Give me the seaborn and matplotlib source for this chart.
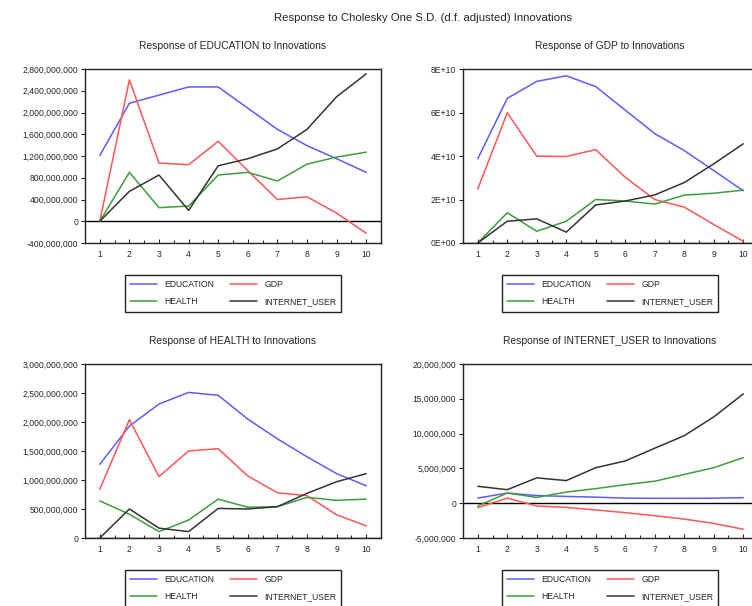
import numpy as np
import pandas as pd
import matplotlib
matplotlib.use('Agg')
import matplotlib.pyplot as plt
import seaborn as sns
from matplotlib.ticker import FuncFormatter, MultipleLocator

sns.set_style('ticks')
plt.rcParams['font.family'] = ['Liberation Sans', 'DejaVu Sans']

# periods
periods = list(range(1, 11))
variables = ['EDUCATION', 'GDP', 'HEALTH', 'INTERNET_USER']

# Response of EDUCATION
edu_to_edu = [1.21e9, 2.17e9, 2.32e9, 2.47e9, 2.47e9, 2.08e9, 1.69e9, 1.39e9, 1.15e9, 0.90e9]
edu_to_gdp = [0.0, 2.60e9, 1.07e9, 1.04e9, 1.47e9, 0.93e9, 0.40e9, 0.45e9, 0.15e9, -0.22e9]
edu_to_health = [0.0, 0.90e9, 0.25e9, 0.28e9, 0.85e9, 0.90e9, 0.74e9, 1.05e9, 1.18e9, 1.27e9]
edu_to_inet = [0.0, 0.55e9, 0.85e9, 0.20e9, 1.02e9, 1.15e9, 1.33e9, 1.69e9, 2.29e9, 2.71e9]

# Response of GDP
gdp_to_edu = [3.87e10, 6.65e10, 7.43e10, 7.69e10, 7.19e10, 6.11e10, 5.03e10, 4.25e10, 3.33e10, 2.40e10]
gdp_to_gdp = [2.48e10, 5.99e10, 3.99e10, 3.98e10, 4.29e10, 3.02e10, 2.00e10, 1.65e10, 0.85e10, 0.08e10]
gdp_to_health = [0.0, 1.39e10, 0.54e10, 1.00e10, 2.00e10, 1.93e10, 1.79e10, 2.20e10, 2.29e10, 2.43e10]
gdp_to_inet = [0.0, 1.00e10, 1.11e10, 0.50e10, 1.75e10, 1.93e10, 2.21e10, 2.78e10, 3.64e10, 4.56e10]

# Response of HEALTH
hea_to_edu = [1.27e9, 1.93e9, 2.31e9, 2.51e9, 2.46e9, 2.05e9, 1.71e9, 1.40e9, 1.11e9, 0.90e9]
hea_to_gdp = [0.84e9, 2.04e9, 1.06e9, 1.50e9, 1.54e9, 1.07e9, 0.78e9, 0.73e9, 0.40e9, 0.21e9]
hea_to_health = [0.64e9, 0.41e9, 0.11e9, 0.31e9, 0.67e9, 0.53e9, 0.54e9, 0.70e9, 0.65e9, 0.67e9]
hea_to_inet = [0.0, 0.50e9, 0.17e9, 0.11e9, 0.51e9, 0.50e9, 0.54e9, 0.77e9, 0.97e9, 1.11e9]

# Response of INTERNET_USER
net_to_edu = [0.73e6, 1.46e6, 1.10e6, 0.97e6, 0.87e6, 0.73e6, 0.70e6, 0.70e6, 0.72e6, 0.80e6]
net_to_gdp = [-0.63e6, 0.73e6, -0.40e6, -0.60e6, -0.97e6, -1.36e6, -1.80e6, -2.28e6, -2.90e6, -3.74e6]
net_to_health = [-0.40e6, 1.46e6, 0.83e6, 1.60e6, 2.09e6, 2.67e6, 3.16e6, 4.13e6, 5.10e6, 6.55e6]
net_to_inet = [2.43e6, 1.94e6, 3.64e6, 3.25e6, 5.10e6, 6.07e6, 7.90e6, 9.70e6, 12.40e6, 15.70e6]

COLORS = {
    'EDUCATION': '#5c5cff',
    'GDP': '#ff5555',
    'HEALTH': '#3c9e3c',
    'INTERNET_USER': '#333333',
}

panels = [
    ('Response of EDUCATION to Innovations', [edu_to_edu, edu_to_gdp, edu_to_health, edu_to_inet],
     (-4e8, 2.8e9), 4e8, 'comma'),
    ('Response of GDP to Innovations', [gdp_to_edu, gdp_to_gdp, gdp_to_health, gdp_to_inet],
     (0, 8e10), 2e10, 'sci'),
    ('Response of HEALTH to Innovations', [hea_to_edu, hea_to_gdp, hea_to_health, hea_to_inet],
     (0, 3e9), 5e8, 'comma'),
    ('Response of INTERNET_USER to Innovations', [net_to_edu, net_to_gdp, net_to_health, net_to_inet],
     (-5e6, 2e7), 5e6, 'comma'),
]

W, H = 752, 606
# axes boxes in pixels: left, top, right, bottom (right column runs past the edge)
boxes = [(85, 69, 381, 243), (463, 69, 758, 243), (85, 364, 381, 538), (463, 364, 758, 538)]

fig = plt.figure(figsize=(W / 100, H / 100), dpi=100)
fig.text(423 / W, 1 - 18 / H, 'Response to Cholesky One S.D. (d.f. adjusted) Innovations',
         ha='center', va='center', fontsize=8.2)

for (title, series, ylim, step, fmt), (l, t, r, b) in zip(panels, boxes):
    ax = fig.add_axes([l / W, 1 - b / H, (r - l) / W, (b - t) / H])
    df = pd.DataFrame({
        'period': periods * 4,
        'value': sum(series, []),
        'shock': [v for v in variables for _ in periods],
    })
    sns.lineplot(data=df, x='period', y='value', hue='shock', palette=COLORS,
                 linewidth=1.1, ax=ax, legend=False)
    ax.axhline(0, color='black', linewidth=1.0, zorder=1)
    ax.set_xlim(0.5, 10.5)
    ax.set_ylim(*ylim)
    ax.set_xticks(periods)
    ax.set_xticks(np.arange(1.5, 10.5, 1), minor=True)
    ax.yaxis.set_major_locator(MultipleLocator(step))
    if fmt == 'sci':
        ax.yaxis.set_major_formatter(FuncFormatter(lambda v, p: f'{v:.0E}'))
    else:
        ax.yaxis.set_major_formatter(FuncFormatter(lambda v, p: f'{v:,.0f}'))
    ax.set_xlabel('')
    ax.set_ylabel('')
    ax.tick_params(axis='x', direction='in', length=3, width=0.8, labelsize=6.2, pad=5)
    ax.tick_params(axis='x', which='minor', direction='in', length=2, width=0.8)
    ax.tick_params(axis='y', direction='out', length=3, width=0.8, labelsize=6.2, pad=2)
    for s in ax.spines.values():
        s.set_color('#222222')
        s.set_linewidth(1.0)
    cx = (l + r) / 2 if l < 400 else 610
    fig.text(cx / W, 1 - (t - 23) / H, title, ha='center', va='center', fontsize=7.4)

    handles = [plt.Line2D([], [], color=COLORS[v], linewidth=1.1) for v in variables]
    order = [0, 2, 1, 3]
    leg = fig.legend([handles[i] for i in order], [variables[i] for i in order],
                     loc='upper center', bbox_to_anchor=(cx / W, 1 - (b + 32) / H),
                     ncol=2, fontsize=6.2, frameon=True, fancybox=False, edgecolor='#222222',
                     framealpha=1, handlelength=3.2, columnspacing=1.8, labelspacing=0.95,
                     borderpad=0.6, borderaxespad=0)
    leg.get_frame().set_linewidth(1.0)

plt.savefig('out.png', dpi=100)
plt.close()
